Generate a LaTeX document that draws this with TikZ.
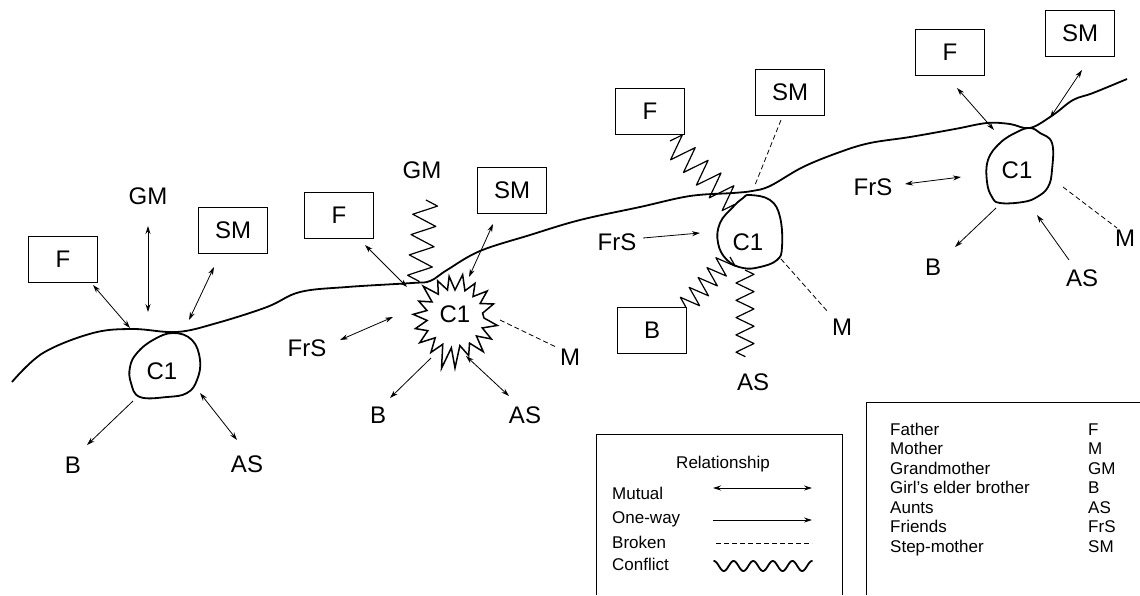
\documentclass[tikz,border=0pt]{standalone}
\usepackage{fontspec}
\setmainfont{Liberation Sans}
\usetikzlibrary{arrows.meta,decorations.pathmorphing}
\begin{document}
\begin{tikzpicture}[x=1pt,y=-1pt,
  box/.style={draw,line width=0.9pt,minimum width=69pt,minimum height=46pt,inner sep=0pt,font=\fontsize{24}{28}\selectfont},
  lbl/.style={inner sep=0pt,font=\fontsize{24}{28}\selectfont},
  mutual/.style={line width=0.8pt,{Stealth[length=8pt,width=5pt]}-{Stealth[length=8pt,width=5pt]}},
  oneway/.style={line width=0.8pt,-{Stealth[length=8pt,width=5pt]}},
  broken/.style={line width=0.8pt,dash pattern=on 5pt off 3pt},
  conflict/.style n args={2}{line width=1.2pt,line join=round,decorate,decoration={zigzag,segment length=#1,amplitude=#2}},
  life/.style={line width=1.8pt,line join=round},
  blob/.style={line width=1.8pt,line join=round},
  leg/.style={inner sep=0pt,anchor=base west,font=\fontsize{17}{20}\selectfont},
  legframe/.style={line width=0.9pt}]
\useasboundingbox (0,0) rectangle (1140,595);

% life line
\draw[life] plot[smooth,tension=0.6] coordinates {(12,382) (43,353) (93,333) (133,329) (177,332) (217,323) (267,307) (300,292) (347,287) (412,283) (430,281) (447,270) (480,251) (530,235) (580,220) (640,207) (690,196) (733,193) (752,191) (770,186) (803,167) (840,152) (870,143) (910,137) (955,129) (987,123) (1010,124) (1030,128) (1053,115) (1073,100) (1093,93) (1127,79)};

% ---------- group 1
\draw[blob] plot[smooth cycle,tension=0.7] coordinates {(173,333) (192,340) (200,360) (197,380) (187,393) (167,397) (140,397) (131,383) (130,367) (137,353) (153,340)};
\node[lbl] (C1a) at (162,371) {C1};
\node[box] (F1) at (63,259) {F};
\node[lbl] (GM1) at (148,196) {GM};
\node[box] (SM1) at (233,230) {SM};
\node[lbl] (B1) at (73,465) {B};
\node[lbl] (AS1) at (247,464) {AS};
\draw[mutual] ([shift={(30,26)}]F1.center) -- ([shift={(-32,-43)}]C1a.center);
\draw[mutual] ([shift={(0,30)}]GM1.center) -- ([shift={(-14,-59)}]C1a.center);
\draw[mutual] ([shift={(-19,37)}]SM1.center) -- ([shift={(27,-51)}]C1a.center);
\draw[oneway] ([shift={(-29,30)}]C1a.center) -- ([shift={(14,-20)}]B1.center);
\draw[mutual] ([shift={(38,22)}]C1a.center) -- ([shift={(-10,-24)}]AS1.center);

% ---------- group 2
\begin{scope}[shift={(455,318)}]
\draw[blob,line width=1.5pt,line join=miter] (0:29)
  \foreach \a/\r in {10/43,20/29,30/42,40/28,50/44,60/29,70/40,80/28,90/50,97/30,105/52,115/29,125/42,135/28,145/43,155/30,165/41,175/28,185/42,195/29,205/40,215/28,225/45,235/29,245/41,255/29,262/42,270/28,280/44,290/29,300/40,310/28,320/42,330/29,340/41,350/28} { -- (\a:\r) } -- cycle;
\end{scope}
\node[lbl] (C1b) at (455,314) {C1};
\node[box] (F2) at (339,215) {F};
\node[lbl] (GM2) at (422,170) {GM};
\node[box] (SM2) at (512,190) {SM};
\node[lbl] (FrS2) at (307,348) {FrS};
\node[lbl] (M2) at (570,357) {M};
\node[lbl] (B2) at (378,415) {B};
\node[lbl] (AS2) at (525,415) {AS};
\draw[mutual] ([shift={(26,30)}]F2.center) -- ([shift={(-48,-27)}]C1b.center);
\draw[conflict={20.4}{12}] ([shift={(4,30)}]GM2.center) -- ([shift={(-36,-32)}]C1b.center);
\draw[mutual] ([shift={(-19,34)}]SM2.center) -- ([shift={(14,-37)}]C1b.center);
\draw[mutual] ([shift={(33,-8)}]FrS2.center) -- ([shift={(-62,3)}]C1b.center);
\draw[broken] ([shift={(45,6)}]C1b.center) -- ([shift={(-14,-10)}]M2.center);
\draw[oneway] ([shift={(-24,44)}]C1b.center) -- ([shift={(12,-17)}]B2.center);
\draw[mutual] ([shift={(11,42)}]C1b.center) -- ([shift={(-16,-19)}]AS2.center);

% ---------- group 3
\draw[blob] plot[smooth cycle,tension=0.7] coordinates {(750,195) (770,200) (780,217) (782,247) (777,260) (760,267) (743,268) (727,260) (718,243) (720,223) (733,207) (743,198)};
\node[lbl] (C1c) at (748,242) {C1};
\node[box] (F3) at (650,111) {F};
\node[box] (SM3) at (790,92) {SM};
\node[lbl] (FrS3) at (617,242) {FrS};
\node[box] (B3) at (652,330) {B};
\node[lbl] (AS3) at (753,382) {AS};
\node[lbl] (M3) at (842,327) {M};
\draw[conflict={18.1}{13}] ([shift={(20,30)}]F3.center) -- ([shift={(-13,-37)}]C1c.center);
\draw[broken] ([shift={(-9,28)}]SM3.center) -- ([shift={(7,-57)}]C1c.center);
\draw[oneway] ([shift={(26,-4)}]FrS3.center) -- ([shift={(-48,-9)}]C1c.center);
\draw[conflict={13.3}{10}] ([shift={(-18,15)}]C1c.center) -- ([shift={(33,-23)}]B3.center);
\draw[conflict={17.3}{9}] ([shift={(-3,28)}]C1c.center) -- ([shift={(-8,-25)}]AS3.center);
\draw[broken] ([shift={(33,17)}]C1c.center) -- ([shift={(-14,-15)}]M3.center);

% ---------- group 4
\draw[blob] plot[smooth cycle,tension=0.7] coordinates {(1030,128) (1040,133) (1052,143) (1052,170) (1048,187) (1037,197) (1023,202) (1000,203) (992,197) (987,182) (988,160) (1000,143) (1017,132)};
\node[lbl] (C1d) at (1017,170) {C1};
\node[box] (F4) at (950,52) {F};
\node[box] (SM4) at (1080,33) {SM};
\node[lbl] (FrS4) at (873,187) {FrS};
\node[lbl] (B4) at (933,267) {B};
\node[lbl] (AS4) at (1082,278) {AS};
\node[lbl] (M4) at (1125,238) {M};
\draw[mutual] ([shift={(7,36)}]F4.center) -- ([shift={(-23,-40)}]C1d.center);
\draw[mutual] ([shift={(2,37)}]SM4.center) -- ([shift={(33,-52)}]C1d.center);
\draw[mutual] ([shift={(32,-3)}]FrS4.center) -- ([shift={(-56,7)}]C1d.center);
\draw[oneway] ([shift={(-21,38)}]C1d.center) -- ([shift={(22,-20)}]B4.center);
\draw[oneway] ([shift={(-13,-18)}]AS4.center) -- ([shift={(20,45)}]C1d.center);
\draw[broken] ([shift={(46,17)}]C1d.center) -- ([shift={(-8,-10)}]M4.center);

% ---------- legend 1
\draw[legframe] (596,595) -- (596,434) -- (842,434) -- (842,595);
\node[leg,anchor=base] (relT) at (723,468) {Relationship};
\node[leg] (lmut) at (612,499) {Mutual};
\node[leg] (lone) at (612,523) {One-way};
\node[leg] (lbro) at (612,548) {Broken};
\node[leg] (lcon) at (612,570) {Conflict};
\coordinate (mA) at (713,488); \coordinate (mB) at (812,488);
\coordinate (oA) at (713,520); \coordinate (oB) at (812,520);
\coordinate (bA) at (716,543); \coordinate (bB) at (812,543);
\coordinate (cA) at (714,566);
\draw[mutual] (mA) -- (mB);
\draw[oneway] (oA) -- (oB);
\draw[broken] (bA) -- (bB);
\begin{scope}[shift={(cA)}]
\draw[line width=1.8pt,line cap=round] plot[domain=0:98,samples=120,smooth] (\x,{-5*cos(\x*18.367)});
\end{scope}

% ---------- legend 2
\draw[legframe] (866,595) -- (866,402) -- (1140,402);
\foreach \t/\ab [count=\i from 0] in {Father/F,Mother/M,Grandmother/GM,Girl’s elder brother/B,Aunts/AS,Friends/FrS,Step-mother/SM}{
  \node[leg] (n\i) at (890,435+19.5*\i) {\t};
  \node[leg] (ab\i) at (1088,435+19.5*\i) {\ab};
}
\end{tikzpicture}
\end{document}
